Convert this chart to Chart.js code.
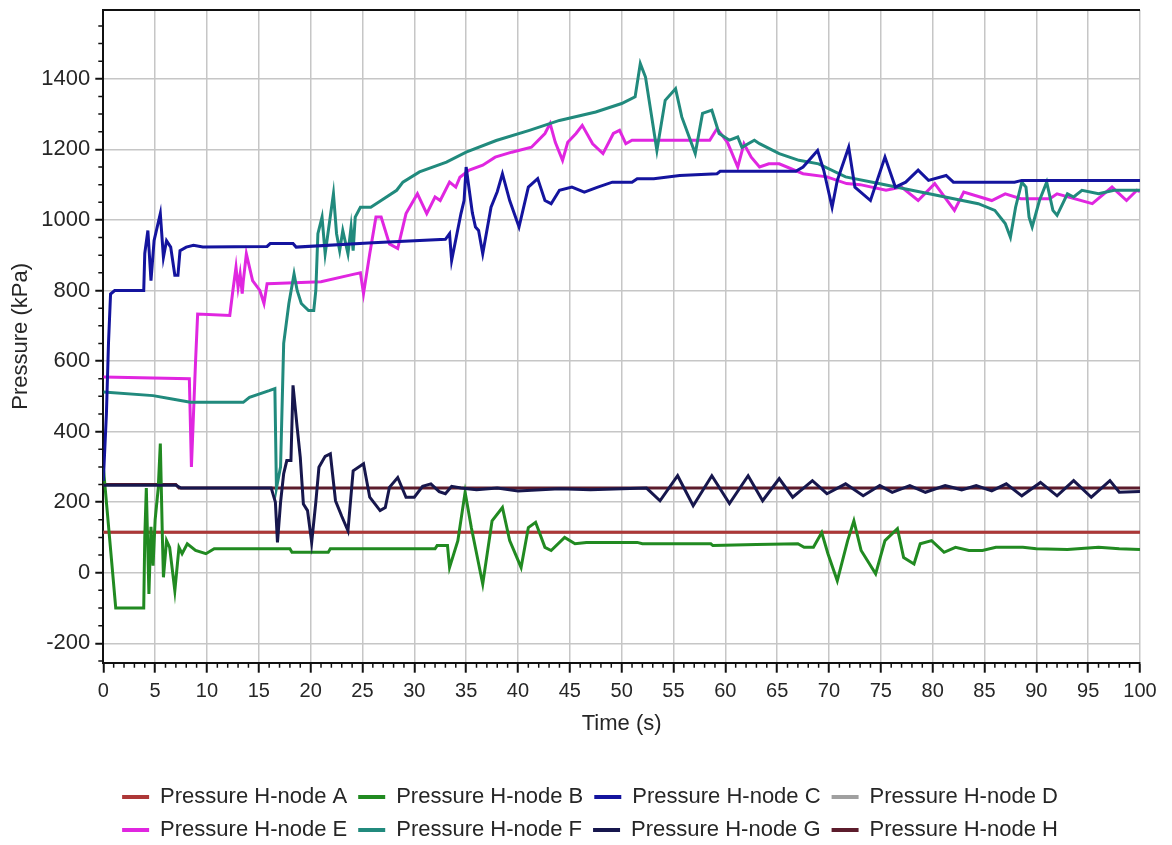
<!DOCTYPE html>
<html>
<head>
<meta charset="utf-8">
<script src="https://cdn.jsdelivr.net/npm/chart.js@4.4.1/dist/chart.umd.min.js"></script>
<style>
html,body{margin:0;padding:0;background:#fff;}
canvas{display:block;}
</style>
</head>
<body>
<canvas id="c" width="1172" height="845"></canvas>
<script>
// ---- Tick labels ----
const xTicks = [0,5,10,15,20,25,30,35,40,45,50,55,60,65,70,75,80,85,90,95,100];
const yTicks = [-200,0,200,400,600,800,1000,1200,1400];

// ---- Series names ----
const seriesNames = ['Pressure H-node A','Pressure H-node B','Pressure H-node C','Pressure H-node D',
                     'Pressure H-node E','Pressure H-node F','Pressure H-node G','Pressure H-node H'];

// ---- Series A ----
const timeA = [0, 100];
const valA  = [115, 115];

// ---- Series B ----
const timeB = [0,0.3,0.6,0.9,1.2,3.9,4.0,4.15,4.3,4.4,4.6,4.8,5.0,5.3,5.5,5.7,5.8,6.1,6.4,6.9,7.3,7.6,8.1,8.9,9.9,10.7,
  18.0,18.2,21.7,21.9,32.0,32.2,33.2,33.4,34.2,34.9,35.5,36.6,37.5,38.5,39.2,40.3,41.0,41.7,42.6,43.2,44.5,45.5,46.6,51.5,52,
  58.6,58.8,63,67,67.6,68.5,69.3,69.9,70.8,71.8,72.4,73.1,74.5,75.4,76.6,77.2,78.2,78.8,79.9,81.1,82.2,83.5,84.8,86.1,88.7,
  90,93,96,98,100];
const valB = [300,200,100,0,-100,-100,100,240,60,-60,130,20,150,240,366,100,-13,91,72,-51,72,54,82,63,54,68,
  68,58,58,68,68,77,77,15,91,228,128,-32,147,185,91,15,128,143,72,63,100,82,86,86,82,
  82,77,80,82,72,72,114,54,-23,91,147,63,-3,91,125,43,25,82,91,58,72,63,63,72,72,
  68,66,72,68,66];

// ---- Series C ----
const timeC = [0,0.3,0.5,0.7,1.1,3.9,4.0,4.3,4.6,4.9,5.5,5.8,6.1,6.5,6.9,7.2,7.4,8.0,8.7,9.6,15.8,16.1,18.3,18.6,26,33.0,
  33.4,33.6,34.5,34.8,35.0,35.6,35.9,36.2,36.6,37.4,38.0,38.5,39.2,40.1,41.0,41.9,42.6,43.2,44.0,45.2,46.4,47.7,49.1,51.0,
  51.5,53.1,55.6,59.2,59.5,66.8,67.5,68.9,69.5,70.3,70.8,71.9,72.5,74.0,75.4,76.4,77.4,78.6,79.6,81.3,82.0,87.9,88.6,100];
const valC = [260,450,650,790,800,800,905,970,828,942,1018,894,941,923,843,843,913,923,928,923,925,933,933,923,935,945,
  961,885,1018,1055,1150,1020,980,970,904,1036,1080,1131,1055,980,1093,1117,1055,1046,1084,1093,1079,1093,1107,1107,
  1117,1117,1126,1131,1138,1138,1150,1197,1140,1036,1112,1206,1093,1055,1178,1093,1107,1141,1112,1126,1107,1107,1112,1112];

// ---- Series D ----
const timeD = [0, 100];
const valD  = [115, 115];

// ---- Series E ----
const timeE = [0,8.3,8.5,8.7,8.9,9.1,12.2,12.5,12.8,13.0,13.2,13.4,13.5,13.8,14.4,15.1,15.5,15.8,16.5,21,24,24.8,25.1,25.7,
  26.3,26.8,27.6,28.4,29.2,30.3,31.2,32.0,32.5,33.4,34.0,34.4,35.3,36.6,37.8,39.4,41.3,42.6,43.1,43.6,44.3,44.8,45.6,46.2,
  47.2,48.2,49.2,49.8,50.4,51.0,58.5,59.2,60.2,60.6,61.2,61.8,62.5,63.3,64.2,65.2,67.5,69.8,71.7,73.0,75.5,77.0,78.6,80.2,
  82.1,83.0,85.7,87.0,88.5,91.3,92.0,95.4,97.3,98.7,99.7,100];
const valE = [555,550,300,450,600,733,729,800,866,809,847,791,826,904,828,800,763,819,820,825,845,850,791,904,
  1008,1008,932,919,1018,1074,1018,1065,1055,1107,1093,1121,1141,1155,1178,1192,1206,1245,1273,1220,1169,1220,1245,1268,
  1216,1188,1245,1254,1216,1226,1226,1259,1220,1192,1150,1216,1178,1150,1159,1159,1131,1122,1103,1100,1084,1093,1055,1103,
  1027,1079,1055,1074,1060,1060,1074,1046,1093,1055,1084,1080];

// ---- Series F ----
const timeF = [0,4.8,6.5,8.4,13.5,14.1,16.0,16.55,16.7,17.1,17.4,17.9,18.4,18.7,19.1,19.8,20.3,20.5,20.7,21.1,21.4,22.2,
  22.5,22.8,23.1,23.6,23.9,24.1,24.3,24.8,25.8,26.8,28.3,28.9,30.5,33.1,35.0,37.9,41.1,44.0,47.5,50.0,51.3,51.8,52.3,52.9,
  53.4,54.2,55.2,55.8,57.1,57.8,58.7,59.4,60.4,61.2,61.6,62.8,63.3,65.2,67.1,69.0,71.6,74.8,78.0,81.2,84.4,86.0,87.0,87.5,
  88.0,88.6,89.0,89.3,89.6,90.3,91.0,91.6,92.0,93.0,93.6,94.4,96.0,97.5,100];
const valF = [512,502,493,483,483,497,516,522,240,300,650,763,847,800,763,743,743,800,961,1008,904,1074,
  961,913,970,904,980,913,1008,1036,1036,1055,1084,1107,1136,1164,1192,1225,1254,1282,1306,1330,1349,1443,1405,1292,
  1197,1339,1372,1292,1188,1302,1311,1245,1226,1235,1206,1226,1216,1188,1169,1159,1122,1103,1084,1065,1046,1027,990,951,
  1036,1107,1093,1008,980,1055,1107,1027,1013,1074,1065,1084,1074,1084,1084];

// ---- Series G ----
const timeG = [0,7.0,7.5,16.2,16.6,16.8,17.1,17.4,17.7,18.1,18.3,18.7,19.0,19.3,19.7,20.1,20.5,20.8,21.4,21.9,22.4,23.0,
  23.6,24.1,25.1,25.7,26.7,27.2,27.6,28.4,29.2,30.0,30.8,31.6,32.4,33.0,33.6,34.5,36,38,40,44,47,50,52.4,53.7,55.4,56.9,
  58.7,60.4,62.2,63.6,65.2,66.5,68.4,69.8,71.6,73.3,74.9,76.1,77.8,79.3,81.2,82.8,84.2,85.7,87.1,88.6,90.4,92.0,93.6,95.3,
  97.1,98.0,100];
const valG = [248,248,240,240,200,86,200,281,318,318,531,412,327,195,176,86,200,299,330,337,204,160,
  119,289,309,214,176,185,242,270,214,214,245,252,230,224,245,240,235,240,232,238,235,238,240,204,275,190,
  275,196,275,204,267,214,261,224,252,218,247,228,247,228,247,235,247,232,252,218,256,218,261,214,
  261,228,230];

// ---- Series H ----
const timeH = [0, 7.0, 7.3, 100];
const valH  = [250, 250, 240, 240];

const seriesTimes  = [timeA,timeB,timeC,timeD,timeE,timeF,timeG,timeH];
const seriesValues = [valA,valB,valC,valD,valE,valF,valG,valH];
const seriesColors = ['#ad3737','#218a21','#14149e','#a0a0a0','#e026e0','#218a7d','#17174d','#5c1c2c'];
const drawOrder    = [7, 5, 2, 8, 4, 3, 1, 6]; // higher = drawn further back

const datasets = seriesNames.map((name, i) => ({
  label: name,
  data: seriesTimes[i].map((t, k) => ({x: t, y: seriesValues[i][k]})),
  borderColor: seriesColors[i],
  backgroundColor: seriesColors[i],
  borderWidth: 3,
  pointRadius: 0,
  tension: 0,
  fill: false,
  order: drawOrder[i]
}));

const TEXT = '#262626';
const GRID = '#c6c6c6';

const frame = {
  id: 'frame',
  afterDraw(chart) {
    const {ctx, chartArea, scales} = chart;
    ctx.save();
    ctx.strokeStyle = '#111';
    ctx.lineWidth = 2;
    // top border
    ctx.beginPath();
    ctx.moveTo(chartArea.left, chartArea.top);
    ctx.lineTo(chartArea.right, chartArea.top);
    ctx.stroke();
    // minor ticks
    ctx.lineWidth = 1.5;
    const xs = scales.x, ys = scales.y;
    ctx.beginPath();
    for (let v = xs.min; v <= xs.max; v += 1) {
      if (v % 5 === 0) continue;
      const px = xs.getPixelForValue(v);
      ctx.moveTo(px, chartArea.bottom);
      ctx.lineTo(px, chartArea.bottom + 5);
    }
    for (let v = -250; v <= ys.max; v += 50) {
      if (v % 200 === 0) continue;
      const py = ys.getPixelForValue(v);
      ctx.moveTo(chartArea.left, py);
      ctx.lineTo(chartArea.left - 5, py);
    }
    ctx.stroke();
    ctx.restore();
  }
};

new Chart(document.getElementById('c'), {
  type: 'line',
  data: { datasets },
  options: {
    responsive: false,
    animation: false,
    devicePixelRatio: 1,
    layout: { padding: { top: 10, left: 8, right: 0, bottom: -6 } },
    plugins: {
      tooltip: { enabled: false },
      legend: {
        position: 'bottom',
        labels: {
          color: TEXT,
          font: { family: '"Liberation Sans", Arial, sans-serif', size: 22 },
          boxWidth: 27,
          boxHeight: 4,
          padding: 11,
          generateLabels(chart) {
            const items = Chart.defaults.plugins.legend.labels.generateLabels(chart);
            items.forEach(it => { it.fillStyle = it.strokeStyle; it.lineWidth = 0; });
            return items.sort((a, b) => a.datasetIndex - b.datasetIndex);
          }
        }
      }
    },
    scales: {
      x: {
        type: 'linear',
        min: 0, max: 100,
        afterBuildTicks(scale) { scale.ticks = xTicks.map(v => ({value: v})); },
        afterFit(scale) { scale.height = 112.3; scale.paddingLeft = 0; scale.paddingRight = 0; },
        ticks: {
          color: TEXT,
          font: { family: '"Liberation Sans", Arial, sans-serif', size: 20 },
          padding: 7,
          maxRotation: 0,
          autoSkip: false,
          callback: v => String(v)
        },
        grid: {
          color: ctx => (ctx.tick && ctx.tick.value === 0) ? 'rgba(0,0,0,0)' : GRID,
          lineWidth: 1.5,
          tickColor: '#111',
          tickLength: 10,
          tickWidth: 2
        },
        border: { color: '#111', width: 2 },
        title: {
          display: true,
          text: 'Time (s)',
          color: TEXT,
          font: { family: '"Liberation Sans", Arial, sans-serif', size: 22 },
          padding: { top: 0, bottom: 38 }
        }
      },
      y: {
        type: 'linear',
        min: -255, max: 1595,
        afterBuildTicks(scale) { scale.ticks = yTicks.map(v => ({value: v})); },
        afterFit(scale) { scale.width = 95.3; scale.paddingTop = 0; scale.paddingBottom = 0; },
        ticks: {
          color: TEXT,
          font: { family: '"Liberation Sans", Arial, sans-serif', size: 22 },
          padding: 5,
          callback: v => String(v)
        },
        grid: {
          color: GRID,
          lineWidth: 1.5,
          tickColor: '#111',
          tickLength: 8,
          tickWidth: 2
        },
        border: { color: '#111', width: 2 },
        title: {
          display: true,
          text: 'Pressure (kPa)',
          color: TEXT,
          font: { family: '"Liberation Sans", Arial, sans-serif', size: 22 },
          padding: { top: 0, bottom: 0 }
        }
      },
      yRight: {
        type: 'linear',
        position: 'right',
        display: true,
        min: 0, max: 1,
        afterFit(scale) { scale.width = 32; scale.paddingTop = 0; scale.paddingBottom = 0; },
        ticks: { display: false },
        grid: { display: false, drawTicks: false },
        border: { display: false }
      }
    }
  },
  plugins: [frame]
});
</script>
</body>
</html>
